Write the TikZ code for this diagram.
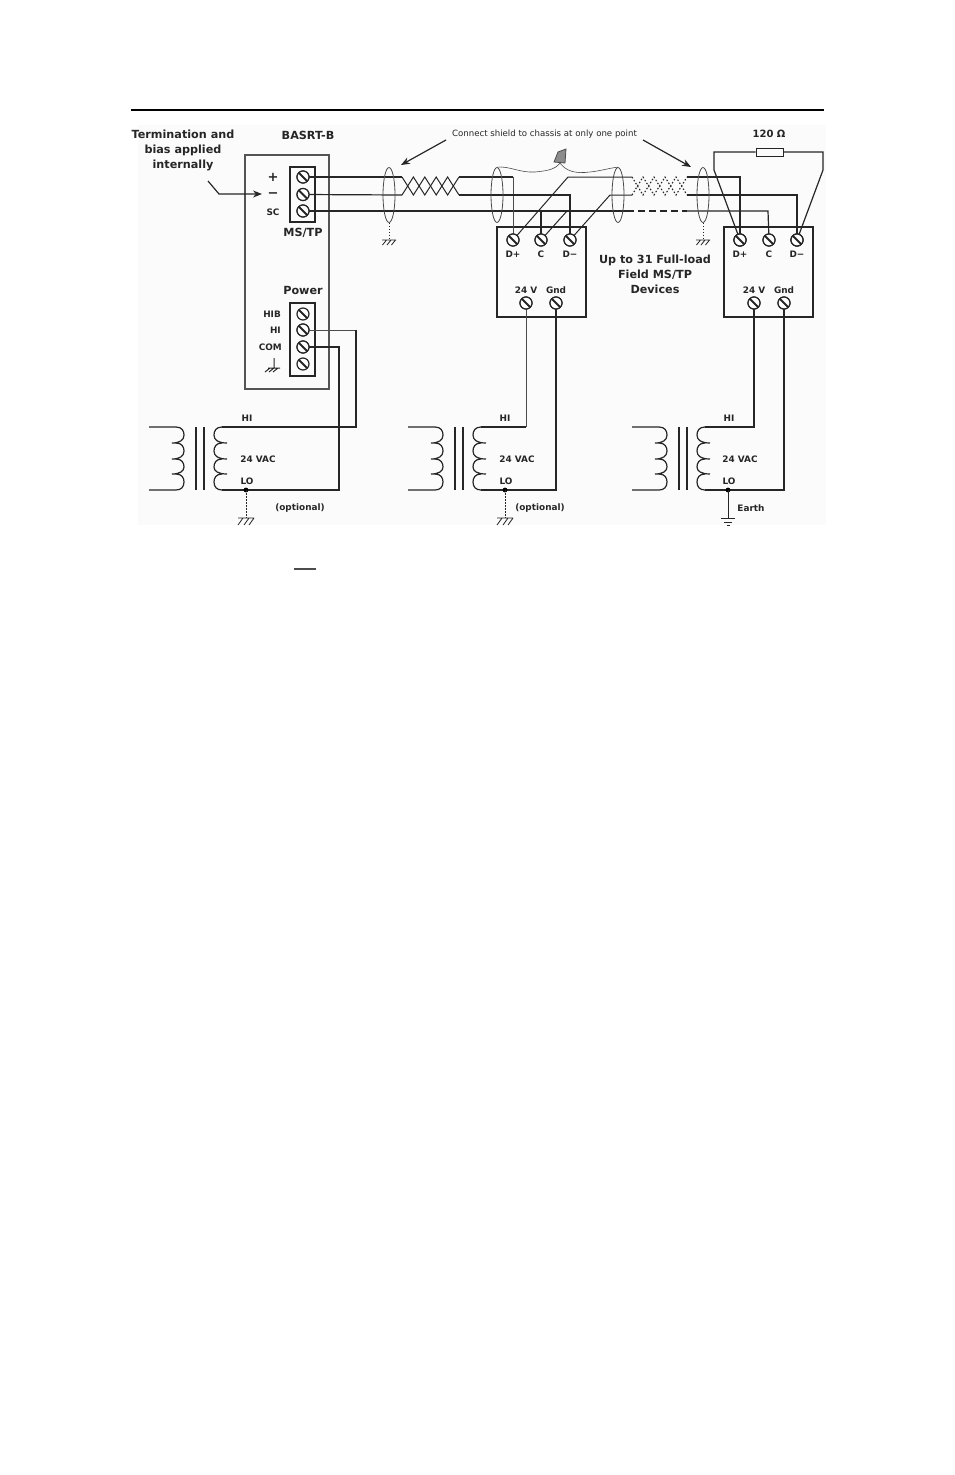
\documentclass[tikz,border=0pt]{standalone}
\usepackage{fontspec}
\setmainfont{DejaVu Sans}
\usetikzlibrary{arrows.meta,shapes.geometric,calc}
\definecolor{boxgray}{gray}{0.33}
\tikzset{
  lab/.style={font=\bfseries\fontsize{11.2}{15}\selectfont,text=black!85,inner sep=0pt,align=center},
  smalllab/.style={font=\bfseries\fontsize{8.9}{10}\selectfont,text=black!85,inner sep=0pt},
  medlab/.style={font=\bfseries\fontsize{8.9}{10}\selectfont,text=black!85,inner sep=0pt},
  note/.style={font=\fontsize{8.6}{10}\selectfont,text=black!85,inner sep=0pt},
  frame/.style={draw=boxgray,line width=1.3pt,inner sep=0pt},
  devbox/.style={draw=black!85,line width=1.2pt},
  screw/.style={circle,draw=black!85,fill=white,line width=1.2pt,minimum size=12pt,inner sep=0pt,
    path picture={\draw[black!85,line width=1.8pt] (path picture bounding box.north west)--(path picture bounding box.south east);}},
  wire/.style={draw=black!85,line width=1.2pt},
  thinwire/.style={draw=black!70,line width=.8pt},
  shield/.style={ellipse,draw=black!70,line width=.8pt,minimum width=12pt,minimum height=55pt,inner sep=0pt},
  pointer/.style={draw=black!85,line width=1.2pt,-{Stealth[length=9pt,width=7pt]}},
  dotwire/.style={draw=black!85,line width=1pt,dash pattern=on 1.5pt off 1.5pt},
  xfmr/.pic={
    \draw[wire] (149,427)--(176,427)
      .. controls (182,427) and (184,431) .. (184,435) .. controls (184,440) and (180,443) .. (172,443)
      --(176,443) .. controls (182,443) and (184,447) .. (184,451) .. controls (184,456) and (180,459) .. (172,459)
      --(176,459) .. controls (182,459) and (184,463) .. (184,467) .. controls (184,471) and (180,474) .. (172,474)
      --(176,474) .. controls (182,474) and (184,478) .. (184,482) .. controls (184,487) and (181,490) .. (176,490)--(149,490);
    \draw[wire,line width=1.5pt] (196,427)--(196,490) (204,427)--(204,490);
    \draw[wire] (222,427)
      .. controls (216,427) and (214,431) .. (214,435) .. controls (214,440) and (218,443) .. (227,443)
      (222,443) .. controls (216,443) and (214,447) .. (214,451) .. controls (214,456) and (218,459) .. (227,459)
      (222,459) .. controls (216,459) and (214,463) .. (214,467) .. controls (214,471) and (218,474) .. (227,474)
      (222,474) .. controls (216,474) and (214,478) .. (214,482) .. controls (214,487) and (217,490) .. (222,490);
  },
  chassis/.pic={
    \draw[black!85,line width=.8pt] (-8,0)--(8,0) (-3,0)--(-8,7) (3,0)--(-2,7) (8,0)--(3,7);
  },
  smallchassis/.pic={
    \draw[black!85,line width=.8pt] (-7,0)--(7,0) (-2.5,0)--(-6.5,5) (2,0)--(-2,5) (6.5,0)--(2.5,5);
  }
}
\begin{document}
\begin{tikzpicture}[x=1pt,y=-1pt]
\useasboundingbox (0,0) rectangle (954,1475);
\fill[black!1.5] (138,125) rectangle (826,525);
\draw[black,line width=2pt] (131,110)--(824,110);

% BASRT-B
\node[lab] (tt) at (183,150) {Termination and\\bias applied\\internally};
\node[lab] (bas) at (308,135) {BASRT-B};
\draw[frame] (245,155) rectangle (329,389);
\draw[frame,draw=black!85] (290,167) rectangle (315,222);
\draw[frame,draw=black!85] (290,303) rectangle (315,376);
\node[lab,font=\bfseries\fontsize{13}{13}\selectfont] (plus) at (273,177) {+};
\node[lab,font=\bfseries\fontsize{13}{13}\selectfont] (minus) at (273,195) {−};
\node[smalllab] (sc) at (273,212) {SC};
\node[lab] (mstp) at (303,233) {MS/TP};
\node[lab] (pow) at (303,290) {Power};
\node[smalllab,anchor=east] (hib) at (281,314) {HIB};
\node[smalllab,anchor=east] (hil) at (281,330) {HI};
\node[smalllab,anchor=east] (com) at (282,347) {COM};
\node[screw] (a1) at (303,177) {};
\node[screw] (a2) at (303,194.5) {};
\node[screw] (a3) at (303,211) {};
\node[screw] (p1) at (303,314) {};
\node[screw] (p2) at (303,330) {};
\node[screw] (p3) at (303,347) {};
\node[screw] (p4) at (303,364) {};
\draw[black!85,line width=1pt] (274,358)--(274,368) (268,368)--(280,368) (270,368)--(265,372) (274,368)--(269,372) (278,368)--(273,372);

% Termination pointer
\coordinate (t0) at (208,181);
\coordinate (t1) at (219,194);
\coordinate (t2) at (262,194);
\draw[pointer] (t0)--(t1)--(t2);

% Devices
\draw[devbox] (497,227) rectangle (586,317);
\draw[devbox] (724,227) rectangle (813,317);
\node[screw] (b1) at (513,240) {};
\node[screw] (b2) at (541,240) {};
\node[screw] (b3) at (570,240) {};
\node[screw] (b4) at (526,303) {};
\node[screw] (b5) at (556,303) {};
\node[screw] (c1) at (740,240) {};
\node[screw] (c2) at (769,240) {};
\node[screw] (c3) at (797,240) {};
\node[screw] (c4) at (754,303) {};
\node[screw] (c5) at (784,303) {};
\foreach \n/\x/\t in {bd/513/D+,bc/541/C,bm/570/D−,cd/740/D+,cc/769/C,cm/797/D−}
  \node[medlab] (\n) at (\x,254) {\t};
\foreach \n/\x/\t in {bv/526/24 V,bg/556/Gnd,cv/754/24 V,cg/784/Gnd}
  \node[medlab] (\n) at (\x,290) {\t};
\node[lab] (up) at (655,274) {Up to 31 Full-load\\Field MS/TP\\Devices};

% Bus wires, first segment
\coordinate (u1) at (402,177); \coordinate (m1) at (402,195);
\coordinate (u2) at (459,177); \coordinate (m2) at (459,195);
\draw[wire] (a1.center)--(u1);
\draw[wire] (a2.center)--(m1);
\draw[wire] (a3.center)--(541,211)--(b2.center);
\draw[wire] (u2)--(513,177);
\draw[thinwire] (513,177)--(b1.center);
\draw[wire] (m2)--(570,195)--(b3.center);
\draw[wire,line width=1pt] (u1)--(413.4,195)--(424.8,177)--(436.2,195)--(447.6,177)--(m2);
\draw[wire,line width=1pt] (m1)--(413.4,177)--(424.8,195)--(436.2,177)--(447.6,195)--(u2);

% Bus wires, second segment
\coordinate (u3) at (632,177); \coordinate (m3) at (632,195);
\coordinate (u4) at (687,177); \coordinate (m4) at (687,195);
\draw[wire,line width=1pt] (b1.center)--(568,177)--(u3);
\draw[wire,line width=1pt] (b3.center)--(610,195)--(m3);
\draw[wire,line width=1pt] (b2.center)--(567,211);
\draw[wire] (541,211)--(627,211);
\draw[wire,dash pattern=on 7pt off 4pt] (627,211)--(687,211);
\draw[wire] (687,211)--(768,211)--(c2.center);
\draw[wire] (u4)--(740,177)--(c1.center);
\draw[wire,line width=1.05pt] (m4)--(797,195)--(c3.center);
\draw[black!85,line width=1.1pt,dash pattern=on 1.5pt off 2pt] (u3)--(643,195)--(654,177)--(665,195)--(676,177)--(m4);
\draw[black!85,line width=1.1pt,dash pattern=on 1.5pt off 2pt] (m3)--(643,177)--(654,195)--(665,177)--(676,195)--(u4);

% Redraw screws over wires
\foreach \x/\y in {303/177,303/194.5,303/211,513/240,541/240,570/240,740/240,769/240,797/240}
  \node[screw] at (\x,\y) {};

% Shields
\node[shield] (s1) at (389,195) {};
\node[shield] (s2) at (497,195) {};
\node[shield] (s3) at (618,195) {};
\node[shield] (s4) at (703,195) {};
\coordinate (g1) at (389,240);
\coordinate (g4) at (703,240);
\draw[dotwire] (s1.south)--(g1);
\draw[dotwire] (s4.south)--(g4);
\pic at (g1) {smallchassis};
\pic at (g4) {smallchassis};

% Shield pigtails and wire nut
\draw[black!70,fill=black!45,line width=.8pt] (554,162)--(558,152)--(566,149)--(565,163)--cycle;
\draw[black!70,line width=.6pt] (s2.north) .. controls (510,166) and (520,173) .. (535,172)
  .. controls (545,171) and (555,170) .. (560,163);
\draw[black!70,line width=.6pt] (560,163) .. controls (566,171) and (575,174) .. (590,172)
  .. controls (600,171) and (610,168) .. (s3.north);

% Shield notes
\node[note] (cs) at (544.5,134) {Connect shield to chassis at only one point};
\coordinate (n1) at (446,140); \coordinate (n2) at (401,165);
\coordinate (n3) at (643,140); \coordinate (n4) at (691,167);
\draw[pointer] (n1)--(n2);
\draw[pointer] (n3)--(n4);

% Resistor
\node[lab,font=\bfseries\fontsize{10}{12}\selectfont] (r) at (769,134) {120 Ω};
\node[draw=black!85,line width=1pt,minimum width=27pt,minimum height=8pt,inner sep=0pt] (res) at (769.5,152) {};
\coordinate (rl) at (714,152); \coordinate (rl2) at (714,170);
\coordinate (rr) at (823,152); \coordinate (rr2) at (823,170);
\draw[wire] (res.west)--(rl)--(rl2)--(c1.center);
\draw[wire] (res.east)--(rr)--(rr2)--(c3.center);
\node[screw] at (740,240) {};
\node[screw] at (797,240) {};

% Transformers
\pic at (0,0) {xfmr};
\pic at (259,0) {xfmr};
\pic at (483,0) {xfmr};

\foreach \n/\x in {h1/247,h2/505,h3/729}
  \node[medlab] (\n) at (\x,418) {HI};
\foreach \n/\x in {l1/247,l2/506,l3/729}
  \node[medlab] (\n) at (\x,481) {LO};
\foreach \n/\x in {v1/258,v2/517,v3/740}
  \node[medlab] (\n) at (\x,459) {24 VAC};
\node[medlab] (o1) at (300,508) {(optional)};
\node[medlab] (o2) at (540,508) {(optional)};
\node[medlab] (e3) at (751,508) {Earth};

% Power wires
\coordinate (j1) at (246,490); \coordinate (j2) at (505,490); \coordinate (j3) at (728,490);
\draw[thinwire] (p2.center)--(356,330);
\draw[wire] (356,330)--(356,427)--(222,427);
\draw[wire] (p3.center)--(339,347)--(339,490)--(222,490);
\node[screw] at (303,330) {};
\node[screw] at (303,347) {};
\draw[thinwire] (b4.center)--(526,427);
\draw[wire] (526,427)--(481,427);
\draw[wire] (b5.center)--(556,490)--(481,490);
\draw[wire] (c4.center)--(754,427)--(705,427);
\draw[wire] (c5.center)--(784,490)--(705,490);
\node[screw] at (526,303) {};
\node[screw] at (556,303) {};
\node[screw] at (754,303) {};
\node[screw] at (784,303) {};
\foreach \c in {j1,j2,j3} \fill[black] (\c) circle (2.4pt);
\coordinate (g5) at (246,518); \coordinate (g6) at (505,518); \coordinate (g7) at (728,518);
\draw[dotwire] (j1)--(g5);
\draw[dotwire] (j2)--(g6);
\pic at (g5) {chassis};
\pic at (g6) {chassis};
\draw[wire,line width=1pt] (j3)--(g7);
\draw[black!85,line width=1pt] (721,518)--(735,518) (724,522)--(732,522) (726.5,525.5)--(729.5,525.5);

% Stray overbar
\draw[black!70,line width=1.3pt] (294,569)--(316,569);
\end{tikzpicture}
\end{document}
